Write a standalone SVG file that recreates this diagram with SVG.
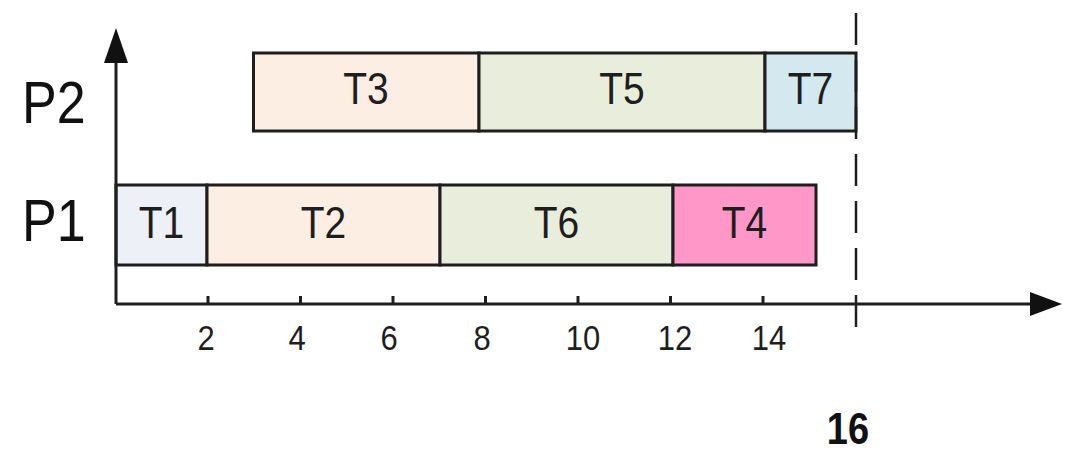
<svg xmlns="http://www.w3.org/2000/svg" width="1067" height="462" viewBox="0 0 1067 462">
<style>
.box{stroke:#1e1e1e;stroke-width:3}
.t{font-family:"Liberation Sans",Arial,sans-serif;font-size:39px;fill:#1e1e1e;text-anchor:middle}
.p{font-family:"Liberation Sans",Arial,sans-serif;font-size:52px;fill:#111}
.n{font-family:"Liberation Sans",Arial,sans-serif;font-size:31px;fill:#1e1e1e;text-anchor:middle}
.b{font-family:"Liberation Sans",Arial,sans-serif;font-size:38px;font-weight:bold;fill:#111;text-anchor:middle}
.ax{stroke:#1e1e1e;stroke-width:3;fill:none}
.tick{stroke:#1e1e1e;stroke-width:3}
</style>
<rect width="1067" height="462" fill="#fff"/>
<g id="labels">
<text class="p" transform="translate(22,123) scale(1,1.15)">P2</text>
<text class="p" transform="translate(22,241) scale(1,1.15)">P1</text>
</g>
<g id="T3"><rect class="box" x="253.5" y="53" width="225.5" height="78" fill="#fdeee3"/><text class="t" transform="translate(366,104) scale(1,1.15)">T3</text></g>
<g id="T5"><rect class="box" x="479" y="53" width="286" height="78" fill="#e9eedc"/><text class="t" transform="translate(622,104) scale(1,1.15)">T5</text></g>
<g id="T7"><rect class="box" x="765" y="53" width="91" height="78" fill="#d3e9ef"/><text class="t" transform="translate(810.5,104) scale(1,1.15)">T7</text></g>
<g id="T1"><rect class="box" x="116" y="185" width="91" height="80" fill="#edf0f6"/><text class="t" transform="translate(161.5,238) scale(1,1.15)">T1</text></g>
<g id="T2"><rect class="box" x="207" y="185" width="233" height="80" fill="#fdeee3"/><text class="t" transform="translate(323.5,238) scale(1,1.15)">T2</text></g>
<g id="T6"><rect class="box" x="440" y="185" width="233" height="80" fill="#e9eedc"/><text class="t" transform="translate(556.5,238) scale(1,1.15)">T6</text></g>
<g id="T4"><rect class="box" x="673" y="185" width="143" height="80" fill="#ff98c9"/><text class="t" transform="translate(744.5,238) scale(1,1.15)">T4</text></g>
<g id="connectors">
<path class="ax" d="M116 304 V60"/>
<polygon points="116,28 104,63 128,63" fill="#111"/>
<path class="ax" d="M116 304 H1034"/>
<polygon points="1062,304 1030,292 1030,316" fill="#111"/>
<path class="tick" d="M208 296V304M300.5 296V304M393 296V304M485.5 296V304M578 296V304M670.5 296V304M763 296V304"/>
<line x1="856" y1="13" x2="856" y2="327" stroke="#1e1e1e" stroke-width="2.5" stroke-dasharray="32 15"/>
</g>
<g id="axis-labels">
<text class="n" transform="translate(206,350) scale(1,1.15)">2</text>
<text class="n" transform="translate(297,350) scale(1,1.15)">4</text>
<text class="n" transform="translate(389,350) scale(1,1.15)">6</text>
<text class="n" transform="translate(482,350) scale(1,1.15)">8</text>
<text class="n" transform="translate(583,350) scale(1,1.15)">10</text>
<text class="n" transform="translate(675,350) scale(1,1.15)">12</text>
<text class="n" transform="translate(769,350) scale(1,1.15)">14</text>
<text class="b" transform="translate(848,444) scale(1,1.15)">16</text>
</g>
</svg>
